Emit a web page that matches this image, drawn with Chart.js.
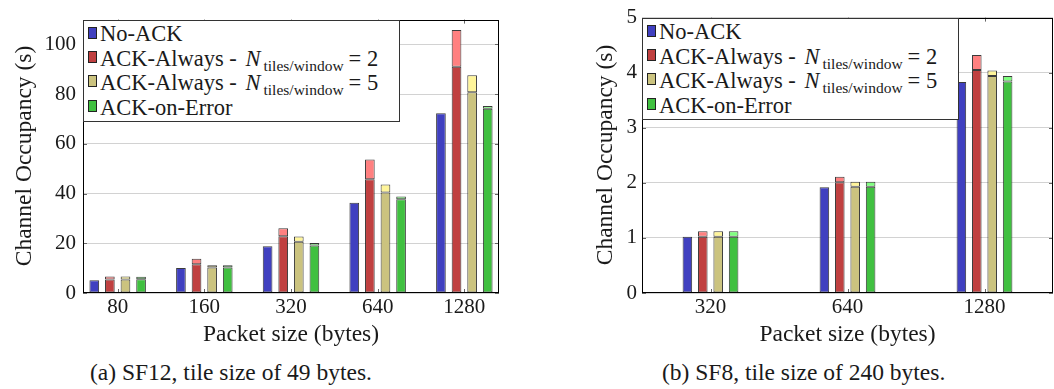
<!DOCTYPE html>
<html>
<head>
<meta charset="utf-8">
<script src="https://cdn.jsdelivr.net/npm/chart.js@4/dist/chart.umd.min.js"></script>
<style>
  body { margin: 0; background: #fff; width: 1054px; height: 389px; overflow: hidden; position: relative;
         font-family: 'Liberation Serif', serif; color: #1a1a1a; }
  .box { position: absolute; top: 0; height: 350px; }
  .cap { position: absolute; top: 359px; font-size: 23.5px; white-space: nowrap; }
  .title { position: absolute; width: 300px; text-align: center; font-size: 23.5px; line-height: 28px;
           white-space: nowrap; z-index: 2; }
  .legend { position: absolute; width: 317px; height: 102px; box-sizing: border-box; border: 1px solid #333;
            background: #fff; z-index: 3; }
  .row { position: absolute; left: 16px; font-size: 22.5px; line-height: 24px; white-space: nowrap; }
  .swatch { position: absolute; left: -12px; top: 4.4px; width: 9px; height: 12px; box-sizing: border-box;
            border: 1px solid #222; }
  .row i { margin-left: 3px; margin-right: 1px; }
  .row sub { font-size: 15.5px; vertical-align: -5px; line-height: 0; margin-left: 2px; margin-right: 5px; }
</style>
</head>
<body>
<div class="box" style="left:0;width:530px"><canvas id="chartA"></canvas></div>
<div class="box" style="left:530px;width:524px"><canvas id="chartB"></canvas></div>
<div class="cap" style="left:90px">(a) SF12, tile size of 49 bytes.</div>
<div class="cap" style="left:662px">(b) SF8, tile size of 240 bytes.</div>
<script>
const FONT = '"Liberation Serif"';
const TEXT = '#1a1a1a';

const seriesLabels = ['No-ACK', 'ACK-Always - N_{tiles/window} = 2', 'ACK-Always - N_{tiles/window} = 5', 'ACK-on-Error'];
const baseColors = ['#4040c0', '#c04040', '#cbc37f', '#40c040'];
const overColors = [null, '#ff8080', '#fff59a', '#80ff80'];
const xTitle = 'Packet size (bytes)';
const yTitle = 'Channel Occupancy (s)';

// (a) SF12, tile 49 bytes
const sizesA = ['80', '160', '320', '640', '1280'];
const noAckA = [5.1, 10.1, 18.8, 36.3, 72.3];
const ack2BaseA = [5.4, 11.6, 22.8, 45.8, 91.0];
const ack2OverA = [1.2, 2.2, 3.3, 7.9, 14.8];
const ack5BaseA = [5.4, 10.3, 20.6, 40.4, 80.8];
const ack5OverA = [1.2, 0.9, 2.1, 3.3, 6.8];
const aoeBaseA = [5.5, 10.3, 19.1, 37.7, 74.1];
const aoeOverA = [1.0, 0.9, 1.0, 1.1, 1.1];

// (b) SF8, tile 240 bytes
const sizesB = ['320', '640', '1280'];
const noAckB = [1.02, 1.92, 3.83];
const ack2BaseB = [1.02, 2.01, 4.05];
const ack2OverB = [0.10, 0.10, 0.27];
const ack5BaseB = [1.02, 1.93, 3.94];
const ack5OverB = [0.10, 0.09, 0.10];
const aoeBaseB = [1.02, 1.93, 3.84];
const aoeOverB = [0.10, 0.09, 0.10];

Chart.defaults.font.family = FONT;

function buildDatasets(bases, overs) {
  var sets = [];
  bases.forEach(function(vals, k) {
    sets.push({ label: seriesLabels[k], stack: 's' + k, backgroundColor: baseColors[k],
                data: vals.map(function(v, i) { return { x: i, y: v }; }) });
    if (overs[k]) {
      sets.push({ label: seriesLabels[k] + ' (overhead)', stack: 's' + k, backgroundColor: overColors[k],
                  data: overs[k].map(function(v, i) { return { x: i, y: v }; }) });
    }
  });
  return sets;
}

// inner tick marks and plot frame
const framePlugin = {
  id: 'frame',
  afterDraw(chart) {
    var ctx = chart.ctx, a = chart.chartArea, sx = chart.scales.x, sy = chart.scales.y;
    ctx.save();
    ctx.lineWidth = 1;
    ctx.strokeStyle = '#666';
    ctx.beginPath();
    sy.ticks.forEach(function(t) {
      var y = Math.round(sy.getPixelForValue(t.value)) + 0.5;
      ctx.moveTo(a.left, y); ctx.lineTo(a.left + 4, y);
      ctx.moveTo(a.right - 4, y); ctx.lineTo(a.right, y);
    });
    sx.ticks.forEach(function(t) {
      var x = Math.round(sx.getPixelForValue(t.value)) + 0.5;
      ctx.moveTo(x, a.bottom); ctx.lineTo(x, a.bottom - 4);
      ctx.moveTo(x, a.top); ctx.lineTo(x, a.top + 4);
    });
    ctx.stroke();
    ctx.strokeStyle = '#000';
    ctx.strokeRect(Math.round(a.left) + 0.5, Math.round(a.top) + 0.5, Math.round(a.right - a.left) - 1, Math.round(a.bottom - a.top) - 1);
    ctx.restore();
  }
};

function makeChart(id, labels, datasets, cfg) {
  return new Chart(document.getElementById(id), {
    type: 'bar',
    data: { datasets: datasets },
    options: {
      responsive: true,
      maintainAspectRatio: false,
      animation: false,
      events: [],
      layout: { padding: { top: 10, right: cfg.padRight, left: 0, bottom: 0 } },
      datasets: { bar: { barPercentage: 0.62, categoryPercentage: cfg.catPct,
                         borderColor: 'rgba(25,25,25,0.85)', borderWidth: 1, borderSkipped: false } },
      plugins: { legend: { display: false }, tooltip: { enabled: false } },
      scales: {
        x: {
          type: 'linear', min: cfg.xmin, max: cfg.xmax, bounds: 'data', offset: false,
          grid: { display: false, offset: false, drawTicks: false }, border: { display: false },
          afterBuildTicks: function(s) { s.ticks = labels.map(function(_, i) { return { value: i }; }); },
          ticks: { autoSkip: false, maxRotation: 0, padding: 2,
                   color: TEXT, font: { family: FONT, size: 21 },
                   callback: function(v) { return labels[v]; } },
          afterFit: function(s) { s.height = 57; }
        },
        y: {
          min: 0, max: cfg.ymax, stacked: true,
          grid: { color: '#d2d2d2', lineWidth: 1, drawTicks: false }, border: { display: false },
          ticks: { stepSize: cfg.ystep, includeBounds: false, padding: cfg.tickPad,
                   color: TEXT, font: { family: FONT, size: 21 } },
          afterFit: function(s) { s.width = cfg.yWidth; }
        }
      }
    },
    plugins: [framePlugin]
  });
}

function el(cls, html, style) {
  var d = document.createElement('div');
  d.className = cls;
  d.innerHTML = html;
  Object.assign(d.style, style);
  document.body.appendChild(d);
  return d;
}

// axis titles and legend as page text, placed from the chart area
function decorate(chart, offsetX, titleGap) {
  var a = chart.chartArea;
  var cx = offsetX + (a.left + a.right) / 2, cy = (a.top + a.bottom) / 2;
  el('title', xTitle, { left: (cx - 150) + 'px', top: (333 - 14) + 'px' });
  el('title', yTitle, { left: (offsetX + a.left - titleGap - 150) + 'px', top: (cy - 14) + 'px', transform: 'rotate(-90deg)' });

  var box = el('legend', '', { left: (offsetX + Math.round(a.left)) + 'px', top: Math.round(a.top) + 'px' });
  seriesLabels.forEach(function(lab, k) {
    var html = lab.replace(/ N_\{(.+?)\} /, ' <i>N</i><sub>$1</sub>');
    var row = document.createElement('div');
    row.className = 'row';
    row.style.top = (1.3 + k * 24.4) + 'px';
    row.innerHTML = '<span class="swatch" style="background:' + baseColors[k] + '"></span>' + html;
    box.appendChild(row);
  });
}

var chartA = makeChart('chartA', sizesA,
  buildDatasets([noAckA, ack2BaseA, ack5BaseA, aoeBaseA], [null, ack2OverA, ack5OverA, aoeOverA]),
  { xmin: -0.4, xmax: 4.4, ymax: 110, ystep: 20, catPct: 0.72, padRight: 31, yWidth: 83, tickPad: 7 });

var chartB = makeChart('chartB', sizesB,
  buildDatasets([noAckB, ack2BaseB, ack5BaseB, aoeBaseB], [null, ack2OverB, ack5OverB, aoeOverB]),
  { xmin: -0.5, xmax: 2.5, ymax: 5, ystep: 1, catPct: 0.45, padRight: 1, yWidth: 112, tickPad: 5 });

decorate(chartA, 0, 60.5);
decorate(chartB, 530, 38);
</script>
</body>
</html>
